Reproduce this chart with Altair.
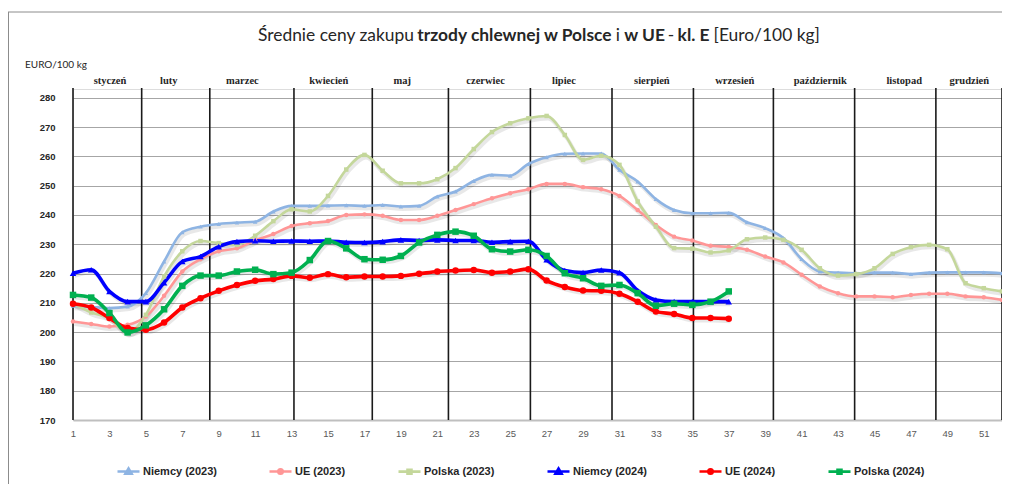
import altair as alt
import pandas as pd

weeks = list(range(1, 53))

series_names = ["Niemcy (2023)", "UE (2023)", "Polska (2023)",
                "Niemcy (2024)", "UE (2024)", "Polska (2024)"]
series_colors = ["#8EB4E3", "#FF9696", "#C4D79B", "#0000FF", "#FF0000", "#00B050"]
series_markers = ["triangle-up", "circle", "square", "triangle-up", "circle", "square"]

niemcy_2023 = [209.0, 208.6, 208.2, 208.7, 213.3, 224.1, 234.1, 236.0, 236.9, 237.4,
               237.7, 241.2, 243.1, 243.1, 243.2, 243.3, 243.1, 243.4, 242.9, 243.1,
               246.3, 248.0, 251.6, 253.7, 253.4, 257.4, 259.7, 260.9, 261.0, 261.0,
               255.4, 251.4, 245.4, 241.7, 240.6, 240.6, 240.7, 237.5, 235.5, 232.1,
               224.9, 220.7, 220.3, 220.1, 220.3, 220.3, 219.8, 220.3, 220.4, 220.4,
               220.4, 220.1]
ue_2023 = [203.6, 202.8, 201.9, 202.5, 205.3, 212.4, 220.7, 224.9, 227.6, 228.6,
           231.3, 233.5, 236.2, 237.2, 237.9, 240.0, 240.2, 239.7, 238.3, 238.3,
           239.7, 241.7, 243.7, 245.7, 247.4, 248.8, 250.6, 250.6, 249.5, 248.8,
           246.5, 241.7, 236.6, 232.6, 231.3, 229.5, 229.1, 228.1, 225.8, 223.8,
           219.6, 215.6, 213.3, 212.2, 212.2, 211.9, 212.7, 213.1, 213.1, 212.2,
           211.9, 211.0]
polska_2023 = [209.9, 206.7, 204.8, 199.7, 205.9, 219.0, 227.6, 231.1, 230.4, 229.8,
               232.9, 237.9, 241.9, 241.2, 246.5, 255.5, 260.5, 255.1, 250.8, 250.8,
               252.2, 256.0, 262.5, 268.3, 271.3, 273.0, 273.8, 267.3, 258.8, 260.2,
               257.1, 244.6, 236.0, 228.7, 228.5, 227.2, 227.9, 231.7, 232.3, 231.5,
               228.1, 221.8, 219.3, 219.8, 221.8, 226.7, 229.0, 229.8, 228.3, 216.7,
               215.0, 213.9]
niemcy_2024 = [220.1, 221.3, 213.9, 210.4, 210.4, 216.9, 224.1, 225.8, 229.2, 230.9,
               231.2, 231.0, 231.1, 231.0, 231.1, 230.7, 230.6, 230.9, 231.5, 231.3,
               231.5, 231.3, 231.3, 230.7, 230.9, 231.0, 224.7, 221.0, 220.3, 221.2,
               220.3, 214.2, 211.0, 210.4, 210.4, 210.4, 210.4]
ue_2024 = [209.7, 208.4, 204.8, 201.4, 200.8, 203.3, 208.4, 211.6, 214.1, 216.1,
           217.5, 218.1, 219.2, 218.6, 219.8, 218.7, 219.0, 219.0, 219.2, 219.9,
           220.7, 221.0, 221.2, 220.3, 220.7, 221.5, 217.6, 215.4, 214.2, 214.1,
           213.1, 210.4, 207.0, 206.2, 204.8, 204.8, 204.6]
polska_2024 = [212.7, 211.8, 206.5, 199.9, 202.3, 207.8, 215.8, 219.3, 219.3, 220.7,
               221.3, 219.8, 220.3, 224.6, 231.1, 228.6, 224.9, 224.7, 226.0, 230.6,
               233.2, 234.3, 232.9, 228.3, 227.5, 228.1, 226.0, 220.1, 218.4, 215.8,
               216.1, 213.3, 209.0, 209.7, 209.3, 210.4, 213.9]

month_names = ["styczeń", "luty", "marzec", "kwiecień", "maj", "czerwiec", "lipiec",
               "sierpień", "wrzesień", "październik", "listopad", "grudzień"]
month_centers = [3.03, 6.26, 10.3, 15.04, 19.07, 23.65, 27.95, 32.78, 37.33, 42.02, 46.63, 50.2]
month_bounds = [1, 4.77, 8.51, 13.13, 17.43, 21.61, 26.11, 30.59, 35.06, 39.45, 43.91, 48.37, 52]

y_ticks = list(range(170, 281, 10))
x_ticks = list(range(1, 52, 2))

title_parts = ["Średnie ceny zakupu", "trzody chlewnej w Polsce", "i", "w UE", "-", "kl. E",
               "[Euro/100 kg]"]
title_bold = [False, True, False, True, False, True, False]
title_x = [258, 417.3, 615.7, 624.2, 667.7, 677.6, 713.6]
unit_label = "EURO/100 kg"

rows = []
all_vals = [niemcy_2023, ue_2023, polska_2023, niemcy_2024, ue_2024, polska_2024]
for name, vals in zip(series_names, all_vals):
    for w, v in zip(weeks, vals):
        rows.append({"week": w, "value": v, "series": name, "year": name[-5:-1]})
df = pd.DataFrame(rows)

months_df = pd.DataFrame({"week": month_centers, "label": month_names})
bounds_df = pd.DataFrame({"week": month_bounds})

W, H = 929, 331
PLOT_LEFT, PLOT_TOP = 73, 89

xs = alt.Scale(domain=[1, 52], nice=False, zero=False)
ys = alt.Scale(domain=[170, 283], nice=False, zero=False)
cscale = alt.Scale(domain=series_names, range=series_colors)

x_enc = alt.X("week:Q", scale=xs,
              axis=alt.Axis(values=x_ticks, title=None, grid=False, ticks=False,
                            labelColor="#595959", labelFontSize=9.5, labelFont="Liberation Sans",
                            labelPadding=8, domainColor="#BFBFBF", domainWidth=2,
                            labelFlush=False))
y_enc = alt.Y("value:Q", scale=ys,
              axis=alt.Axis(values=y_ticks, title=None, grid=True, gridColor="#A6A6A6",
                            gridWidth=1, ticks=False, domain=False, labelFontWeight="bold",
                            labelFontSize=9.5, labelFont="Liberation Sans",
                            labelColor="#262626", labelPadding=18))

legend_paths = [
    "M-1,0H1M0,-0.28L0.28,0.2L-0.28,0.2Z",
    "M-1,0H1M0.2,0A0.2,0.2,0,1,1,-0.2,0A0.2,0.2,0,1,1,0.2,0Z",
    "M-1,0H1M-0.18,-0.18H0.18V0.18H-0.18Z",
    "M-1,0H1M0,-0.28L0.28,0.2L-0.28,0.2Z",
    "M-1,0H1M0.2,0A0.2,0.2,0,1,1,-0.2,0A0.2,0.2,0,1,1,0.2,0Z",
    "M-1,0H1M-0.18,-0.18H0.18V0.18H-0.18Z",
]

leg = alt.Legend(title=None, orient="none", legendX=43, legendY=370, direction="horizontal",
                 columns=6, symbolSize=484, symbolStrokeWidth=2.6, labelFontSize=11,
                 labelFontWeight="bold", labelFont="Liberation Sans", labelColor="#262626",
                 columnPadding=47, labelOffset=2, symbolOpacity=1)

base = alt.Chart(df)
col_nolegend = alt.Color("series:N", scale=cscale, legend=None)

layers = []

# legend-defining layer (invisible in the plot)
layers.append(base.mark_point(filled=False, strokeWidth=2.6, opacity=0).encode(
    x=x_enc, y=y_enc,
    color=alt.Color("series:N", scale=cscale, legend=leg),
    shape=alt.Shape("series:N", scale=alt.Scale(domain=series_names, range=legend_paths),
                    legend=leg)))

# frame
frame = alt.Chart(pd.DataFrame({"k": [0]}))
layers.append(frame.mark_rule(color="#8C8C8C", strokeWidth=1).encode(
    x=alt.value(-65), x2=alt.value(W + 20), y=alt.value(12 - PLOT_TOP)))
layers.append(frame.mark_rule(color="#8C8C8C", strokeWidth=1).encode(
    x=alt.value(-64.5), y=alt.value(12 - PLOT_TOP), y2=alt.value(H + 110)))

# title
for part, bold, px in zip(title_parts, title_bold, title_x):
    layers.append(
        alt.Chart(pd.DataFrame({"t": [part]})).mark_text(
            align="left", baseline="alphabetic", font="Lato", fontSize=17.4,
            fontWeight="bold" if bold else "normal", color="#262626"
        ).encode(text="t:N", x=alt.value(px - PLOT_LEFT), y=alt.value(41 - PLOT_TOP))
    )

layers.append(
    alt.Chart(pd.DataFrame({"t": [unit_label]})).mark_text(
        align="left", baseline="middle", font="Lato", fontSize=10, color="#262626"
    ).encode(text="t:N", x=alt.value(25 - PLOT_LEFT), y=alt.value(65 - PLOT_TOP))
)

# month separators and labels
layers.append(alt.Chart(bounds_df).mark_rule(color="#1A1A1A", strokeWidth=1.6).encode(
    x=x_enc, y=alt.value(-1), y2=alt.value(H)))
layers.append(alt.Chart(months_df).mark_text(
    font="Liberation Serif", fontSize=10.5, fontWeight="bold", color="#262626",
    baseline="middle").encode(x=x_enc, y=alt.value(81 - PLOT_TOP), text="label:N"))

# soft shadows
layers.append(base.mark_line(interpolate="monotone", color="#000000", opacity=0.09,
                             strokeWidth=4, xOffset=1.5, yOffset=2.5).encode(
    x=x_enc, y=y_enc, detail="series:N"))

# 2023 lines then 2024 lines
for yr, sw in (("2023", 2.6), ("2024", 3.6)):
    layers.append(base.transform_filter(alt.datum.year == yr).mark_line(
        interpolate="monotone", strokeWidth=sw).encode(
        x=x_enc, y=y_enc, color=col_nolegend, detail="series:N"))

for name, shp in zip(series_names, series_markers):
    big = name.endswith("(2024)")
    layers.append(base.transform_filter(alt.datum.series == name).mark_point(
        shape=shp, filled=True, opacity=1, size=42 if big else 20).encode(
        x=x_enc, y=y_enc, color=col_nolegend))

chart = alt.layer(*layers).properties(
    width=W, height=H,
    padding={"left": 65, "top": 81, "right": 0, "bottom": 64},
    autosize=alt.AutoSizeParams(type="none"),
).configure_view(stroke=None).configure(background="white")

chart.save("out.html", embed_options={"renderer": "svg", "actions": False})
